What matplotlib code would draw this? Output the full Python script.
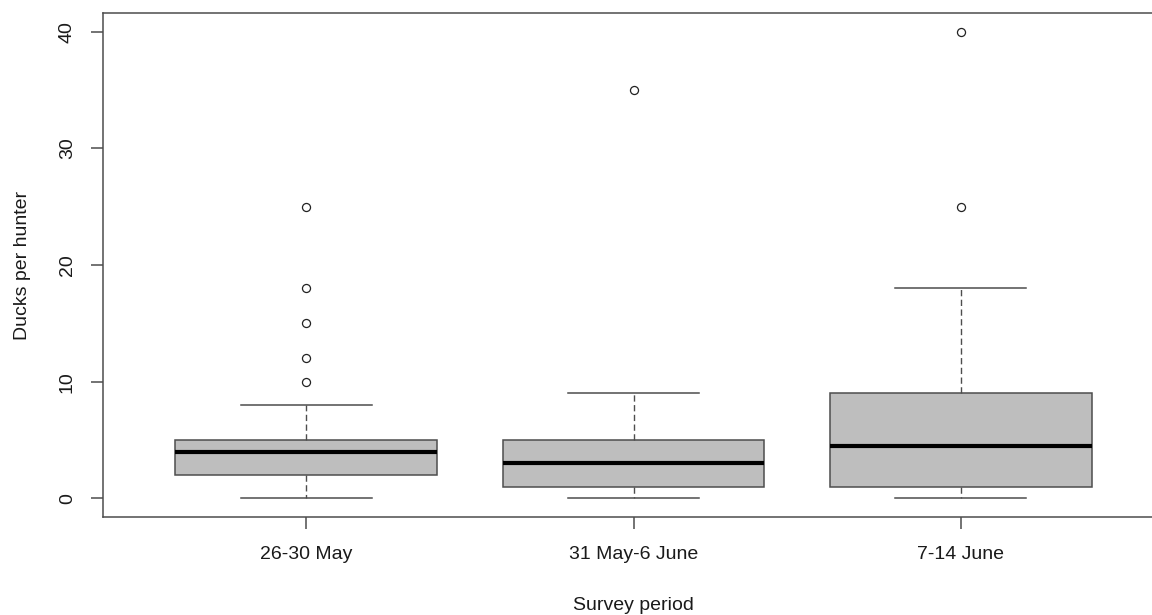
import matplotlib
matplotlib.use("Agg")
import matplotlib.pyplot as plt

plt.rcParams['font.family'] = ['Liberation Sans', 'DejaVu Sans']
plt.rcParams['lines.scale_dashes'] = False

periods = ["26-30 May", "31 May-6 June", "7-14 June"]
whisker_low = [0, 0, 0]
q1 = [2, 1, 1]
median = [4, 3, 4.5]
q3 = [5, 5, 9]
whisker_high = [8, 9, 18]
outliers = [[10, 12, 15, 18, 25], [35], [25, 40]]

stats = []
for i, name in enumerate(periods):
    stats.append({
        "label": name,
        "whislo": whisker_low[i],
        "q1": q1[i],
        "med": median[i],
        "q3": q3[i],
        "whishi": whisker_high[i],
        "fliers": outliers[i],
    })

line_col = "#4d4d4d"
text_col = "#1a1a1a"

fig = plt.figure(figsize=(11.52, 6.15), dpi=100)
# right side of the plot frame runs past the figure edge
ax = fig.add_axes([103 / 1152, 1 - 517 / 615, (1164 - 103) / 1152, (517 - 13) / 615])

ax.bxp(
    stats,
    positions=[1, 2, 3],
    widths=0.8,
    patch_artist=True,
    boxprops=dict(facecolor="#bebebe", edgecolor=line_col, linewidth=1.1),
    medianprops=dict(color="black", linewidth=3.0, solid_capstyle="butt"),
    whiskerprops=dict(color=line_col, linewidth=1.0, linestyle=(0, (4.5, 2.5))),
    capprops=dict(color=line_col, linewidth=1.1),
    capwidths=0.4,
    flierprops=dict(marker="o", markerfacecolor="white", markeredgecolor="#222222",
                    markersize=5.8, markeredgewidth=0.9, linestyle="none"),
)

ax.set_xlim(0.38, 3.62)
ax.set_ylim(-1.6, 41.6)
ax.set_xticks([1, 2, 3])
ax.set_xticklabels(periods)
ax.set_yticks([0, 10, 20, 30, 40])
ax.set_yticklabels(["0", "10", "20", "30", "40"], rotation=90, va="center")

for sp in ax.spines.values():
    sp.set_color(line_col)
    sp.set_linewidth(1.1)

ax.tick_params(axis="both", direction="out", length=8.6, width=1.1, color=line_col,
               labelsize=14, labelcolor=text_col)
ax.tick_params(axis="x", pad=12.5)
ax.tick_params(axis="y", pad=11)

ax.set_xlabel("Survey period", fontsize=14, color=text_col, labelpad=24)
ax.set_ylabel("Ducks per hunter", fontsize=14, color=text_col, labelpad=20)

fig.savefig("out.png", dpi=100)
